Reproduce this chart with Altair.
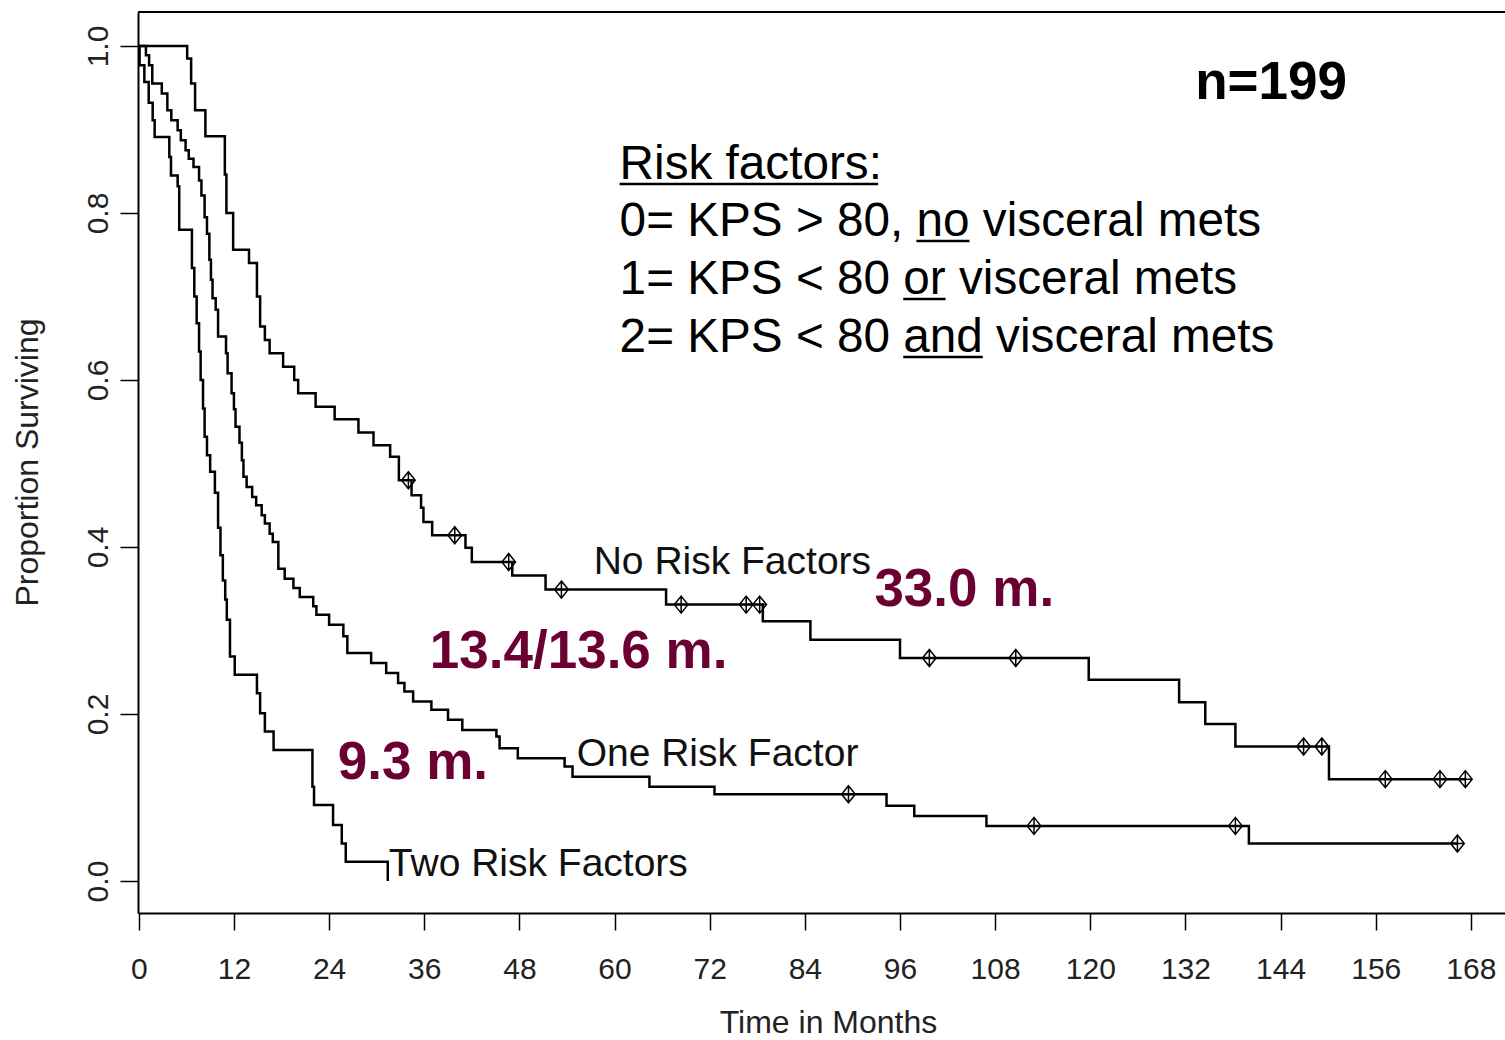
import altair as alt
import pandas as pd

FONT = "Liberation Sans"

# ---------------- Kaplan-Meier step data (months, proportion surviving) ----------------
t0 = [0, 6.1, 6.6, 7.1, 8.4, 10.85, 11.05, 11.9, 13.9, 14.9, 15.3, 15.9, 16.5, 18.2, 19.6,
      20.1, 22.3, 24.7, 27.7, 29.6, 31.7, 32.8, 34.4, 35.6, 35.9, 37.0, 41.2, 42.0, 47.1,
      51.3, 66.5, 78.7, 84.7, 96.0, 119.8, 131.2, 134.5, 138.3, 150.1, 167.3]
s0 = [1.0, 0.985, 0.955, 0.923, 0.892, 0.846, 0.800, 0.756, 0.740, 0.700, 0.664, 0.648,
      0.632, 0.616, 0.600, 0.584, 0.568, 0.553, 0.537, 0.522, 0.508, 0.480, 0.462, 0.447,
      0.430, 0.414, 0.399, 0.382, 0.366, 0.349, 0.331, 0.311, 0.289, 0.267, 0.241, 0.214,
      0.188, 0.161, 0.122, 0.122]

t1 = [0, 0.9, 1.3, 1.7, 2.9, 3.6, 4.1, 4.9, 5.3, 5.9, 6.3, 6.9, 7.6, 7.9, 8.3, 8.6, 8.9,
      9.1, 9.3, 9.7, 10.0, 11.0, 11.2, 11.7, 12.0, 12.2, 12.7, 13.0, 13.2, 13.6, 14.3, 14.8,
      15.5, 15.9, 16.5, 16.9, 17.6, 18.4, 19.5, 20.3, 22.0, 22.4, 24.0, 25.8, 26.3, 29.3,
      31.2, 32.7, 33.5, 34.6, 36.9, 39.0, 40.8, 45.1, 45.5, 47.8, 53.7, 54.7, 64.4, 72.6,
      94.3, 97.8, 106.9, 140.0, 166.3]
s1 = [1.0, 0.989, 0.977, 0.955, 0.943, 0.923, 0.911, 0.899, 0.887, 0.875, 0.865, 0.855,
      0.839, 0.821, 0.795, 0.775, 0.744, 0.720, 0.698, 0.684, 0.652, 0.632, 0.608, 0.584,
      0.565, 0.544, 0.525, 0.504, 0.484, 0.472, 0.460, 0.450, 0.438, 0.428, 0.416, 0.406,
      0.374, 0.362, 0.351, 0.340, 0.329, 0.319, 0.307, 0.293, 0.273, 0.261, 0.249, 0.237,
      0.227, 0.215, 0.205, 0.193, 0.181, 0.173, 0.159, 0.147, 0.137, 0.125, 0.113, 0.104,
      0.090, 0.078, 0.066, 0.045, 0.045]

t2 = [0, 0.1, 0.7, 1.25, 1.75, 2.0, 3.85, 4.06, 4.9, 5.1, 6.7, 7.0, 7.3, 7.6, 7.8, 8.1,
      8.3, 8.6, 9.0, 9.6, 10.0, 10.3, 10.6, 10.9, 11.1, 11.5, 12.1, 14.9, 15.3, 15.9, 17.0,
      21.9, 22.1, 24.5, 25.6, 26.1, 31.4]
s2 = [1.0, 0.977, 0.957, 0.932, 0.911, 0.891, 0.867, 0.845, 0.832, 0.780, 0.734, 0.700,
      0.668, 0.634, 0.600, 0.566, 0.532, 0.510, 0.490, 0.465, 0.423, 0.390, 0.360, 0.337,
      0.313, 0.269, 0.247, 0.225, 0.201, 0.179, 0.157, 0.113, 0.091, 0.067, 0.045, 0.023,
      0.0]

# censored observations
c0_t = [34.0, 39.85, 46.65, 53.3, 68.4, 76.6, 78.3, 99.7, 110.6, 146.9, 149.2, 157.2, 164.1, 167.3]
c0_s = [0.480, 0.414, 0.382, 0.349, 0.331, 0.331, 0.331, 0.267, 0.267, 0.161, 0.161, 0.122, 0.122, 0.122]
c1_t = [89.5, 112.9, 138.3, 166.3]
c1_s = [0.104, 0.066, 0.066, 0.045]

x_ticks = [0, 12, 24, 36, 48, 60, 72, 84, 96, 108, 120, 132, 144, 156, 168]
y_ticks = [0.0, 0.2, 0.4, 0.6, 0.8, 1.0]

# ---------------- annotations ----------------
legend_text = ["Risk factors:", "0= KPS > 80, no visceral mets",
               "1= KPS < 80 or visceral mets", "2= KPS < 80 and visceral mets"]
legend_x = [60.64, 60.64, 60.64, 60.64]
legend_y = [0.8407, 0.7725, 0.7030, 0.6335]

underline_x1 = [60.64, 98.07, 96.41, 96.41]
underline_x2 = [93.24, 104.76, 101.75, 106.44]
underline_y = [0.8347, 0.7665, 0.6970, 0.6275]

curve_labels = ["No Risk Factors", "One Risk Factor", "Two Risk Factors"]
curve_label_x = [57.37, 55.22, 31.53]
curve_label_y = [0.3677, 0.1377, 0.0060]

median_labels = ["33.0 m.", "13.4/13.6 m.", "9.3 m."]
median_x = [92.77, 36.70, 25.10]
median_y = [0.3293, 0.2551, 0.1222]

n_label = ["n=199"]
n_x = [133.23]
n_y = [0.9365]

# ---------------- build tables ----------------
rows = []
for g, (tt, ss) in enumerate([(t0, s0), (t1, s1), (t2, s2)]):
    for i, (a, b) in enumerate(zip(tt, ss)):
        rows.append({"grp": g, "i": i, "t": a, "s": b})
curves = pd.DataFrame(rows)

cens = pd.DataFrame({"t": c0_t + c1_t, "s": c0_s + c1_s})

W, H = 1367, 901
xs = alt.Scale(domain=[-0.1, 172.3], nice=False, zero=False)
ys = alt.Scale(domain=[-0.0383, 1.0407], nice=False, zero=False)

x_axis = alt.Axis(values=x_ticks, title="Time in Months", grid=False,
                  tickSize=17, tickWidth=1.5, tickColor="black",
                  domainColor="black", domainWidth=2,
                  labelFont=FONT, labelFontSize=30, labelColor="#222",
                  labelBaseline="alphabetic", labelPadding=48, labelFlush=False,
                  labelOverlap=False,
                  titleFont=FONT, titleFontSize=32, titleFontWeight="normal",
                  titleColor="#222", titleX=690, titleY=119,
                  titleBaseline="alphabetic", titleAlign="center")
y_axis = alt.Axis(values=y_ticks, format=".1f", title="Proportion Surviving", grid=False,
                  tickSize=18, tickWidth=1.5, tickColor="black",
                  domainColor="black", domainWidth=2,
                  labelFont=FONT, labelFontSize=30, labelColor="#222",
                  labelAngle=270, labelAlign="center", labelBaseline="alphabetic",
                  labelPadding=13, labelFlush=False, labelOverlap=False,
                  titleFont=FONT, titleFontSize=32, titleFontWeight="normal",
                  titleColor="#222", titleAngle=270, titleX=-101, titleY=450,
                  titleBaseline="alphabetic", titleAlign="center")

X = alt.X("t:Q", scale=xs, axis=x_axis)
Y = alt.Y("s:Q", scale=ys, axis=y_axis)

lines = alt.Chart(curves).mark_line(
    interpolate="step-after", color="black", strokeWidth=2.5, strokeJoin="miter"
).encode(x=X, y=Y, detail="grp:N", order="i:Q")

CENSOR = "M0,-1L0.8,0L0,1L-0.8,0Z M0,-1L0,1 M-0.8,0L0.8,0"
censor = alt.Chart(cens).mark_point(
    shape=CENSOR, filled=False, stroke="black", strokeWidth=1.5, size=290, opacity=1
).encode(x=X, y=Y)


def text_layer(texts, xv, yv, size, weight, color):
    df = pd.DataFrame({"t": xv, "s": yv, "label": texts})
    return alt.Chart(df).mark_text(
        align="left", baseline="alphabetic", font=FONT, fontSize=size,
        fontWeight=weight, color=color
    ).encode(x=X, y=Y, text="label:N")


legend = text_layer(legend_text, legend_x, legend_y, 47.7, "normal", "black")
clabels = text_layer(curve_labels, curve_label_x, curve_label_y, 39, "normal", "#111")
medians = text_layer(median_labels, median_x, median_y, 53, "bold", "#6B0033")
nlab = text_layer(n_label, n_x, n_y, 53, "bold", "black")

ul = pd.DataFrame({"t": underline_x1, "t2": underline_x2, "s": underline_y})
underlines = alt.Chart(ul).mark_rule(color="black", strokeWidth=2.6).encode(
    x=X, x2="t2:Q", y=Y)

top_border = alt.Chart(pd.DataFrame({"k": [0]})).mark_rule(
    color="black", strokeWidth=2).encode(
    x=alt.value(0), x2=alt.value(W), y=alt.value(0))

chart = alt.layer(
    top_border, lines, censor, clabels, medians, legend, underlines, nlab
).properties(
    width=W, height=H,
    autosize=alt.AutoSizeParams(type="none"),
    padding={"left": 138, "top": 12, "right": 0, "bottom": 127},
    background="white",
).configure_view(stroke=None)

chart.save("out.html", embed_options={"renderer": "svg", "actions": False})
